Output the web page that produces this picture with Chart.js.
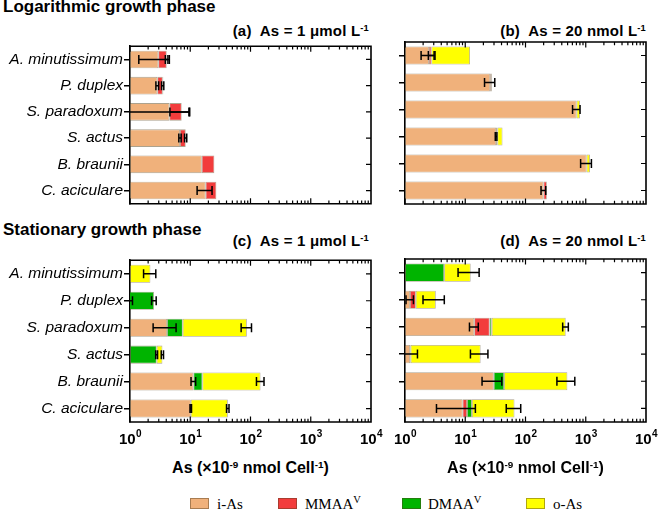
<!DOCTYPE html>
<html>
<head>
<meta charset="utf-8">
<script src="https://cdn.jsdelivr.net/npm/chart.js@4.4.0/dist/chart.umd.min.js"></script>
<style>
body{margin:0;background:#fff;}
#wrap{position:relative;width:658px;height:512px;overflow:hidden;font-family:'Liberation Sans',Arial,sans-serif;color:#000;}
canvas{position:absolute;}
.t{position:absolute;white-space:pre;font-weight:bold;line-height:1;}
.sp{font-size:0.62em;position:relative;top:-0.5em;}
.lg{position:absolute;font-family:'Liberation Serif','Times New Roman',serif;font-size:15px;line-height:1;white-space:pre;}
.lg .sp{font-size:0.7em;top:-0.55em;}
.sw{position:absolute;width:17px;height:9px;border:1px solid rgba(80,60,30,0.45);}
</style>
</head>
<body>
<div id="wrap">
  <div class="t" style="left:3px;top:-2.5px;font-size:17px;">Logarithmic growth phase</div>
  <div class="t" style="right:289px;top:22.5px;font-size:15px;letter-spacing:0.2px;">(a)  As = 1 μmol L<span class="sp">-1</span></div>
  <div class="t" style="right:12px;top:22.5px;font-size:15px;letter-spacing:0.2px;">(b)  As = 20 nmol L<span class="sp">-1</span></div>
  <div class="t" style="left:3px;top:220.5px;font-size:17px;">Stationary growth phase</div>
  <div class="t" style="right:289px;top:232.5px;font-size:15px;letter-spacing:0.2px;">(c)  As = 1 μmol L<span class="sp">-1</span></div>
  <div class="t" style="right:12px;top:232.5px;font-size:15px;letter-spacing:0.2px;">(d)  As = 20 nmol L<span class="sp">-1</span></div>

  <canvas id="ca" width="380" height="178" style="left:0;top:36px;"></canvas>
  <canvas id="cb" width="278" height="178" style="left:380px;top:36px;"></canvas>
  <canvas id="cc" width="390" height="205" style="left:0;top:250px;"></canvas>
  <canvas id="cd" width="278" height="205" style="left:380px;top:250px;"></canvas>

  <div class="t" style="left:110px;width:281px;text-align:center;top:460px;font-size:16px;">As (×10<span class="sp">-9</span> nmol Cell<span class="sp">-1</span>)</div>
  <div class="t" style="left:385px;width:281px;text-align:center;top:460px;font-size:16px;">As (×10<span class="sp">-9</span> nmol Cell<span class="sp">-1</span>)</div>

  <div class="sw" style="left:190px;top:498px;background:#F0B17B;"></div>
  <div class="lg" style="left:217px;top:497px;">i-As</div>
  <div class="sw" style="left:278px;top:498px;background:#F23C3C;"></div>
  <div class="lg" style="left:305px;top:497px;">MMAA<span class="sp">V</span></div>
  <div class="sw" style="left:402px;top:498px;background:#00B400;"></div>
  <div class="lg" style="left:428px;top:497px;">DMAA<span class="sp">V</span></div>
  <div class="sw" style="left:526px;top:498px;background:#FFFF00;"></div>
  <div class="lg" style="left:553px;top:497px;">o-As</div>
</div>

<script>
// species (same order in all panels)
var categories = ['A. minutissimum', 'P. duplex', 'S. paradoxum', 'S. actus', 'B. braunii', 'C. aciculare'];
var species = ['i-As', 'MMAA', 'DMAA', 'o-As'];
var colors = ['#F0B17B', '#F23C3C', '#00B400', '#FFFF00'];
var decades = [1, 10, 100, 1000, 10000];
var decadeExp = ['0', '1', '2', '3', '4'];

/* (a) logarithmic phase, As = 1 umol/L */
var iAs_a  = [2.95, 2.84, 4.5, 6.76, 15.5, 18.0];
var mmaa_a = [1.11, 0.65, 2.7, 1.64, 9.6, 9.1];
var dmaa_a = [0, 0, 0, 0, 0, 0];
var oAs_a  = [0, 0.08, 0, 0, 0, 0];
var iAs_a_sd  = [1.55, 0.15, 5, 0.3, 0, 5];
var mmaa_a_sd = [0.2, 0.15, 2.6, 0.35, 0, 0];
var dmaa_a_sd = [0, 0, 0, 0, 0, 0];
var oAs_a_sd  = [0, 0, 0, 0, 0, 0];

/* (b) logarithmic phase, As = 20 nmol/L */
var iAs_b  = [2.5, 25.9, 704, 32.5, 1032, 199];
var mmaa_b = [0.24, 1.7, 0, 1.7, 0, 27];
var dmaa_b = [0, 0, 0, 0, 0, 0];
var oAs_b  = [9.26, 0, 96, 7.3, 141, 0];
var iAs_b_sd  = [0.65, 5, 100, 1, 210, 18];
var mmaa_b_sd = [0.3, 0, 0, 0, 0, 0];
var dmaa_b_sd = [0, 0, 0, 0, 0, 0];
var oAs_b_sd  = [0, 0, 0, 0, 0, 0];

/* (c) stationary phase, As = 1 umol/L */
var iAs_c  = [0, 0.6, 4.12, 0, 11.3, 10.2];
var mmaa_c = [0, 0, 0, 0, 0, 0];
var dmaa_c = [0, 1.9, 3.38, 2.77, 4.6, 0];
var oAs_c  = [2.18, 0, 79.4, 0.68, 130.7, 31.8];
var iAs_c_sd  = [0, 0.5, 1.7, 0, 1, 0.3];
var mmaa_c_sd = [0, 0, 0, 0, 0, 0];
var dmaa_c_sd = [0, 0.22, 0, 0.1, 0, 0];
var oAs_c_sd  = [0.5, 0, 17, 0.15, 21, 2];

/* (d) stationary phase, As = 20 nmol/L */
var iAs_d  = [0, 1.21, 14.1, 1.21, 29.7, 9.03];
var mmaa_d = [0, 0.3, 11.3, 0.03, 0, 1.67];
var dmaa_d = [4.47, 0, 2.1, 0, 14.4, 2.2];
var oAs_d  = [7.83, 1.73, 436.5, 16.75, 451, 52.7];
var iAs_d_sd  = [0, 0.17, 2.35, 0.4, 10.7, 5.7];
var mmaa_d_sd = [0, 0, 0, 0, 0, 0];
var dmaa_d_sd = [0, 0, 0, 0, 0, 0];
var oAs_d_sd  = [4.7, 1.25, 50, 5.8, 163, 17.7];

var FONT = "'Liberation Sans', Arial, sans-serif";

// box, inside ticks, error bars and the 10^n labels
var frame = {
  id: 'frame',
  afterDatasetsDraw: function(chart) {
    var ctx = chart.ctx, a = chart.chartArea, x = chart.scales.x, y = chart.scales.y;
    var sets = chart.data.datasets;
    ctx.save();
    ctx.strokeStyle = '#000';
    ctx.lineWidth = 1.5;
    for (var j = 0; j < chart.data.labels.length; j++) {
      var cum = 0;
      for (var i = 0; i < sets.length; i++) {
        cum += sets[i].data[j];
        var sd = sets[i].sd[j];
        if (!sd) continue;
        var py = y.getPixelForValue(j);
        var lo = cum - sd, hi = cum + sd;
        var x1 = lo > 0 ? x.getPixelForValue(lo) : a.left - 10;
        var x2 = x.getPixelForValue(hi);
        var xs = Math.max(x1, a.left);
        ctx.beginPath();
        ctx.moveTo(xs, py); ctx.lineTo(x2, py);
        if (x1 >= a.left) { ctx.moveTo(x1, py - 4.5); ctx.lineTo(x1, py + 4.5); }
        ctx.moveTo(x2, py - 4.5); ctx.lineTo(x2, py + 4.5);
        ctx.stroke();
      }
    }
    ctx.restore();
  },
  afterDraw: function(chart, args, opts) {
    var ctx = chart.ctx, a = chart.chartArea, x = chart.scales.x, y = chart.scales.y;
    ctx.save();
    ctx.strokeStyle = '#000';
    ctx.lineWidth = 1.6;
    ctx.beginPath();
    ctx.moveTo(a.left, a.top); ctx.lineTo(a.right, a.top);
    ctx.lineTo(a.right, a.bottom); ctx.lineTo(a.left - 0.8, a.bottom);
    ctx.stroke();

    ctx.lineWidth = 1.2;
    ctx.beginPath();
    for (var e = 0; e < 4; e++) {
      for (var m = 1; m < 10; m++) {
        var px = x.getPixelForValue(m * Math.pow(10, e));
        var len = m == 1 ? 5.5 : 3.2;
        ctx.moveTo(px, a.bottom); ctx.lineTo(px, a.bottom - len);
        ctx.moveTo(px, a.top); ctx.lineTo(px, a.top + len);
      }
    }
    for (var j = 0; j < chart.data.labels.length; j++) {
      var py = y.getPixelForValue(j);
      ctx.moveTo(a.right, py); ctx.lineTo(a.right - 5, py);
    }
    ctx.stroke();

    if (opts.xlabels) {
      ctx.fillStyle = '#000';
      ctx.textBaseline = 'alphabetic';
      for (var k = 0; k < decades.length; k++) {
        var cx = x.getPixelForValue(decades[k]);
        ctx.font = 'bold 15px ' + FONT;
        var w1 = ctx.measureText('10').width;
        ctx.font = 'bold 10px ' + FONT;
        var w2 = ctx.measureText(decadeExp[k]).width;
        var x0 = cx - (w1 + w2) / 2;
        ctx.font = 'bold 15px ' + FONT;
        ctx.fillText('10', x0, a.bottom + 21.5);
        ctx.font = 'bold 10px ' + FONT;
        ctx.fillText(decadeExp[k], x0 + w1 + 0.5, a.bottom + 14.5);
      }
    }
    ctx.restore();
  }
};

function makeChart(id, vals, sds, yw, pad, showNames, xlabels) {
  var datasets = [];
  for (var i = 0; i < species.length; i++) {
    datasets.push({
      label: species[i],
      data: vals[i],
      sd: sds[i],
      backgroundColor: colors[i],
      borderColor: 'rgba(90,70,30,0.5)',
      borderWidth: 0.8,
      borderSkipped: false,
      barPercentage: 0.67,
      categoryPercentage: 1
    });
  }
  return new Chart(document.getElementById(id), {
    type: 'bar',
    data: { labels: categories, datasets: datasets },
    options: {
      indexAxis: 'y',
      responsive: false,
      animation: false,
      devicePixelRatio: 1,
      layout: { padding: pad },
      plugins: { legend: { display: false }, tooltip: { enabled: false }, frame: { xlabels: xlabels } },
      scales: {
        x: { type: 'logarithmic', min: 1, max: 10000, stacked: true, display: false },
        y: {
          stacked: true,
          offset: true,
          grid: { offset: false, drawOnChartArea: false, drawTicks: true, tickLength: 6, color: '#000', lineWidth: 1.5 },
          border: { display: true, color: '#000', width: 1.6 },
          ticks: { display: showNames, color: '#000', padding: 1, font: { family: FONT, size: 15.5, style: 'italic' } },
          afterFit: function(s) { s.width = yw; }
        }
      }
    },
    plugins: [frame]
  });
}

makeChart('ca', [iAs_a, mmaa_a, dmaa_a, oAs_a], [iAs_a_sd, mmaa_a_sd, dmaa_a_sd, oAs_a_sd], 130, { top: 6, right: 9, bottom: 10, left: 0 }, true, false);
makeChart('cb', [iAs_b, mmaa_b, dmaa_b, oAs_b], [iAs_b_sd, mmaa_b_sd, dmaa_b_sd, oAs_b_sd], 25, { top: 6, right: 12, bottom: 10, left: 0 }, false, false);
makeChart('cc', [iAs_c, mmaa_c, dmaa_c, oAs_c], [iAs_c_sd, mmaa_c_sd, dmaa_c_sd, oAs_c_sd], 130, { top: 9, right: 19, bottom: 33, left: 0 }, true, true);
makeChart('cd', [iAs_d, mmaa_d, dmaa_d, oAs_d], [iAs_d_sd, mmaa_d_sd, dmaa_d_sd, oAs_d_sd], 25, { top: 9, right: 12, bottom: 33, left: 0 }, false, true);
</script>
</body>
</html>
